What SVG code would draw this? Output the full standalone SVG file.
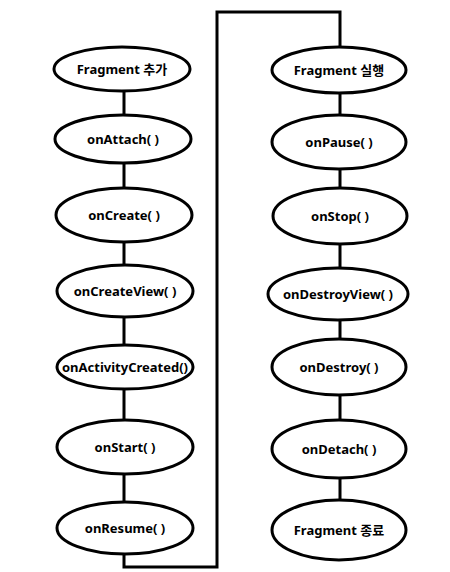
<svg xmlns="http://www.w3.org/2000/svg" width="450" height="572" viewBox="0 0 450 572">
<style>
ellipse{fill:#fff;stroke:#000;stroke-width:3}
.c{fill:none;stroke:#000;stroke-width:3}
text{font-family:"Noto Sans","Noto Sans CJK KR",sans-serif;font-weight:bold;font-size:13px;text-anchor:middle;fill:#000}
</style>
<rect width="450" height="572" fill="#fff"/>
<g id="connectors">
<path class="c" d="M124 70V528"/>
<path class="c" d="M340 70V529"/>
<path class="c" d="M124 540V567H217V12H340V60"/>
</g>
<g id="n1"><ellipse cx="122" cy="69" rx="68" ry="22"/><text x="122" y="74">Fragment 추가</text></g>
<g id="n2"><ellipse cx="123" cy="139" rx="68" ry="24"/><text x="123" y="144">onAttach( )</text></g>
<g id="n3"><ellipse cx="124" cy="215" rx="68" ry="27"/><text x="124" y="220">onCreate( )</text></g>
<g id="n4"><ellipse cx="125" cy="291" rx="68" ry="26"/><text x="125" y="296">onCreateView( )</text></g>
<g id="n5"><ellipse cx="125" cy="367" rx="68" ry="22"/><text x="125" y="372">onActivityCreated()</text></g>
<g id="n6"><ellipse cx="125" cy="447" rx="68" ry="27"/><text x="125" y="452">onStart( )</text></g>
<g id="n7"><ellipse cx="125" cy="528" rx="68" ry="26"/><text x="125" y="533">onResume( )</text></g>
<g id="n8"><ellipse cx="339" cy="70" rx="67" ry="23"/><text x="339" y="75">Fragment 실행</text></g>
<g id="n9"><ellipse cx="339" cy="142" rx="67" ry="27"/><text x="339" y="147">onPause( )</text></g>
<g id="n10"><ellipse cx="340" cy="216" rx="67" ry="28"/><text x="340" y="221">onStop( )</text></g>
<g id="n11"><ellipse cx="338" cy="294" rx="70" ry="26"/><text x="338" y="299">onDestroyView( )</text></g>
<g id="n12"><ellipse cx="339" cy="367" rx="67" ry="28"/><text x="339" y="372">onDestroy( )</text></g>
<g id="n13"><ellipse cx="339" cy="449" rx="67" ry="29"/><text x="339" y="454">onDetach( )</text></g>
<g id="n14"><ellipse cx="339" cy="530" rx="67" ry="30"/><text x="339" y="535">Fragment 종료</text></g>
</svg>
